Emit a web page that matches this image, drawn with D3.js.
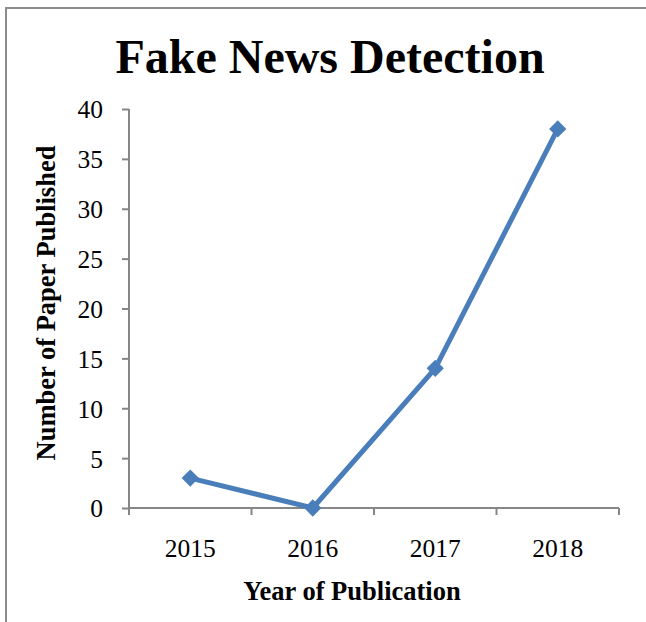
<!DOCTYPE html>
<html>
<head>
<meta charset="utf-8">
<script src="https://cdn.jsdelivr.net/npm/d3@7"></script>
<style>
  body { margin: 0; background: #fff; }
  text { font-family: "Liberation Serif", "Times New Roman", serif; }
</style>
</head>
<body>
<div id="chart"></div>
<script>
// data
var years = ["2015", "2016", "2017", "2018"];
var papers = [3, 0, 14, 38];
var yTicks = [0, 5, 10, 15, 20, 25, 30, 35, 40];

var width = 646, height = 622;
var plotLeft = 129, plotRight = 619, plotTop = 109, plotBottom = 508;

var svg = d3.select("#chart")
    .append("svg")
    .attr("width", width)
    .attr("height", height);

// chart border (only top and left are in frame)
svg.append("path")
    .attr("d", "M6,622 L6,8 L646,8")
    .attr("fill", "none")
    .attr("stroke", "#8c8c8c")
    .attr("stroke-width", 2);

svg.append("text")
    .attr("x", 330)
    .attr("y", 73)
    .attr("text-anchor", "middle")
    .style("font-size", "48px")
    .style("font-weight", "bold")
    .text("Fake News Detection");

var x = d3.scaleBand().domain(years).range([plotLeft, plotRight]);
var y = d3.scaleLinear().domain([0, 40]).range([plotBottom, plotTop]);

var yAxis = svg.append("g")
    .attr("transform", "translate(" + plotLeft + ",0)")
    .call(d3.axisLeft(y).tickValues(yTicks).tickSize(7).tickPadding(19));

var xAxis = svg.append("g")
    .attr("transform", "translate(0," + plotBottom + ")")
    .call(d3.axisBottom(x).tickSize(0).tickPadding(30));

// x ticks sit on the band boundaries
xAxis.selectAll(".bound")
    .data(years.concat(["end"]))
    .enter().append("line")
    .attr("x1", function (d, i) { return i < years.length ? x(d) : plotRight; })
    .attr("x2", function (d, i) { return i < years.length ? x(d) : plotRight; })
    .attr("y1", 0)
    .attr("y2", 7);

[yAxis, xAxis].forEach(function (g) {
    g.selectAll("path, line").attr("stroke", "#868686").attr("stroke-width", 2);
    g.select(".domain").attr("d", g === yAxis
        ? "M0," + plotTop + "V" + plotBottom
        : "M" + plotLeft + ",0H" + plotRight);
    g.selectAll("text")
        .style("font-size", "25.5px")
        .style("font-family", "'Liberation Serif', serif")
        .attr("fill", "#000");
});
yAxis.selectAll(".tick text").attr("dy", "0.35em");
xAxis.selectAll(".tick text").attr("dy", "0.35em").attr("y", 40);

svg.append("text")
    .attr("x", 352)
    .attr("y", 600)
    .attr("text-anchor", "middle")
    .style("font-size", "26.5px")
    .style("font-weight", "bold")
    .text("Year of Publication");

svg.append("text")
    .attr("transform", "translate(55,303) rotate(-90)")
    .attr("text-anchor", "middle")
    .style("font-size", "26.5px")
    .style("font-weight", "bold")
    .text("Number of Paper Published");

var line = d3.line()
    .x(function (d, i) { return x(years[i]) + x.bandwidth() / 2; })
    .y(function (d) { return y(d); });

svg.append("path")
    .datum(papers)
    .attr("d", line)
    .attr("fill", "none")
    .attr("stroke", "#4a7ebb")
    .attr("stroke-width", 5)
    .attr("stroke-linejoin", "round");

svg.selectAll(".marker")
    .data(papers)
    .enter().append("path")
    .attr("class", "marker")
    .attr("d", d3.symbol().type(d3.symbolDiamond2).size(190))
    .attr("transform", function (d, i) {
        return "translate(" + (x(years[i]) + x.bandwidth() / 2) + "," + y(d) + ")";
    })
    .attr("fill", "#4a7ebb");
</script>
</body>
</html>
